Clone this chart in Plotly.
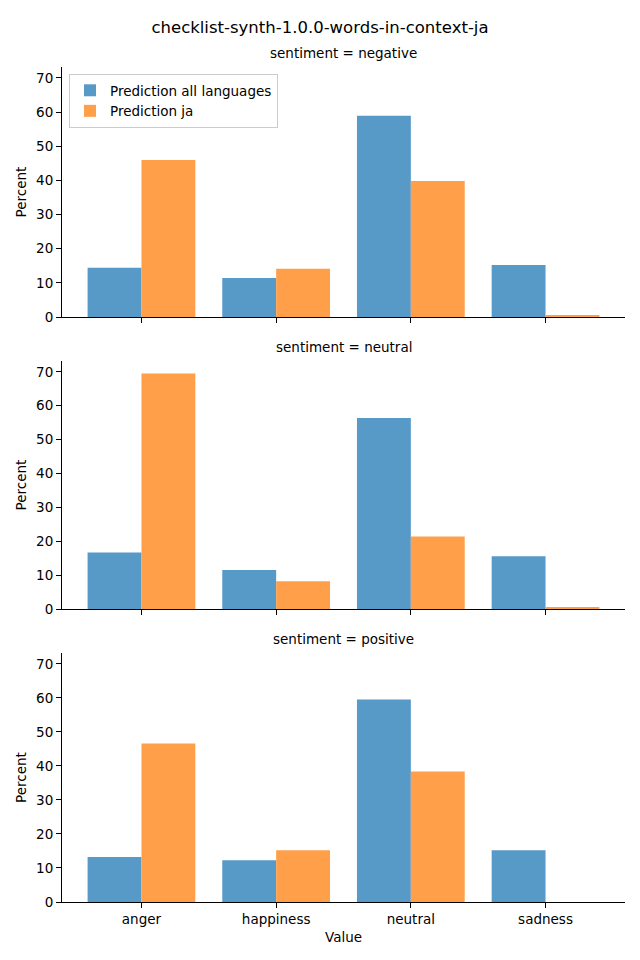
import plotly.graph_objects as go
from plotly.subplots import make_subplots

categories = ["anger", "happiness", "neutral", "sadness"]
panels = ["negative", "neutral", "positive"]
all_languages = {
    "negative": [14.4, 11.4, 58.9, 15.2],
    "neutral": [16.7, 11.5, 56.4, 15.6],
    "positive": [13.2, 12.3, 59.5, 15.2],
}
ja = {
    "negative": [46.0, 14.1, 39.8, 0.3],
    "neutral": [69.5, 8.2, 21.4, 0.6],
    "positive": [46.6, 15.2, 38.4, 0.0],
}
series_names = ["Prediction all languages", "Prediction ja"]
title = "checklist-synth-1.0.0-words-in-context-ja"

BLUE = "#5799c7"
ORANGE = "#ff9f4a"
FONT = "DejaVu Sans"

fig = make_subplots(rows=3, cols=1, shared_xaxes=True)

for i, p in enumerate(panels):
    r = i + 1
    fig.add_trace(go.Bar(x=categories, y=all_languages[p], name=series_names[0],
                         marker=dict(color=BLUE, line=dict(width=0)),
                         showlegend=(i == 0)), row=r, col=1)
    fig.add_trace(go.Bar(x=categories, y=ja[p], name=series_names[1],
                         marker=dict(color=ORANGE, line=dict(width=0)),
                         showlegend=(i == 0)), row=r, col=1)

domains = [[0.7006, 1.0], [0.3509, 0.6479], [0.0, 0.2982]]
for i in range(3):
    r = i + 1
    fig.update_yaxes(domain=domains[i], range=[0, 73.2], tickvals=[0, 10, 20, 30, 40, 50, 60, 70],
                     showline=True, linecolor="black", linewidth=1,
                     ticks="outside", ticklen=5, tickcolor="black", tickwidth=1,
                     showgrid=False, zeroline=False,
                     title=dict(text="Percent", font=dict(size=13.5, family=FONT, color="black"), standoff=6),
                     tickfont=dict(size=13.5, family=FONT, color="black"),
                     row=r, col=1)
    fig.update_xaxes(range=[-0.59, 3.59], showline=True, linecolor="black", linewidth=1,
                     ticks="outside", ticklen=5, tickcolor="black", tickwidth=1,
                     showgrid=False, zeroline=False,
                     tickfont=dict(size=13.5, family=FONT, color="black"),
                     row=r, col=1)
    fig.add_annotation(text=f"sentiment = {panels[i]}", xref="paper", yref="paper",
                       x=0.5, y=domains[i][1], yshift=4, showarrow=False, yanchor="bottom",
                       font=dict(size=13.5, family=FONT, color="black"))

fig.update_xaxes(title=dict(text="Value", font=dict(size=13.5, family=FONT, color="black"), standoff=6), row=3, col=1)

fig.update_layout(
    width=640, height=960,
    margin=dict(l=62, r=15, t=67, b=58),
    paper_bgcolor="white", plot_bgcolor="white",
    barmode="group", bargap=0.2, bargroupgap=0,
    font=dict(family=FONT, color="black"),
    title=dict(text=title, x=0.5, xanchor="center", y=1 - 27 / 960, yanchor="middle",
               font=dict(size=16.5, family=FONT, color="black")),
    legend=dict(x=0.0124, y=0.9916, xanchor="left", yanchor="top", tracegroupgap=0,
                bordercolor="#cccccc", borderwidth=1, bgcolor="rgba(255,255,255,0.8)",
                font=dict(size=13.5, family=FONT, color="black")),
)

fig.write_html("out.html", config={"displayModeBar": False},
               post_script="document.body.style.margin='0';")
